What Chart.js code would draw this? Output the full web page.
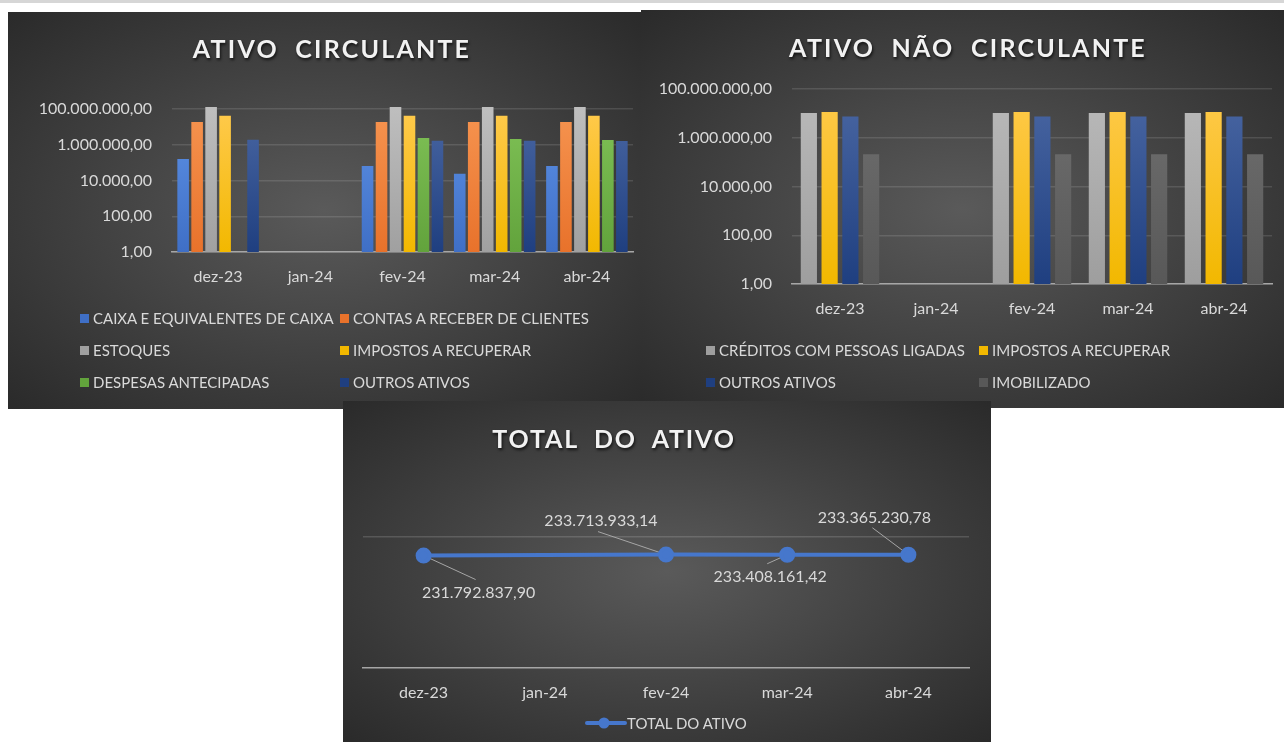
<!DOCTYPE html>
<html>
<head>
<meta charset="utf-8">
<script src="https://cdn.jsdelivr.net/npm/chart.js@4.4.1/dist/chart.umd.min.js"></script>
<style>
body { margin: 0; width: 1284px; height: 742px; background: #fff; position: relative; overflow: hidden; font-family: Lato, sans-serif; }
.strip { position: absolute; left: 0; top: 0; width: 1284px; height: 3px; background: #d6d6d6; }
.panel { position: absolute; overflow: hidden; background: radial-gradient(ellipse farthest-corner at 50% 50%, #5a5a5a 0%, #2a2a2a 100%); }
.panel canvas { position: absolute; left: 0; top: 0; }
.title { position: absolute; transform: translate(-50%, -50%); color: #f2f2f2; font-weight: bold; font-size: 25px; letter-spacing: 2.2px; white-space: pre; text-shadow: 1px 2px 3px rgba(0,0,0,0.7); }
.item { position: absolute; transform: translateY(-50%); display: flex; align-items: center; white-space: nowrap; color: #d9d9d9; font-size: 15px; }
.item canvas { position: static; }
.swatch { width: 9px; height: 9px; margin-right: 4px; }
</style>
</head>
<body>
<div class="strip"></div>

<div class="panel" id="pCirc" style="left:8px; top:12px; width:633px; height:397px;">
  <canvas id="chartCirc" width="633" height="397"></canvas>
  <div class="title" style="left:324px; top:36px;">ATIVO  CIRCULANTE</div>
</div>

<div class="panel" id="pNaoCirc" style="left:641px; top:10px; width:643px; height:398px;">
  <canvas id="chartNaoCirc" width="643" height="398"></canvas>
  <div class="title" style="left:327px; top:37px;">ATIVO  NÃO  CIRCULANTE</div>
</div>

<div class="panel" id="pTotal" style="left:343px; top:401px; width:648px; height:341px;">
  <canvas id="chartTotal" width="648" height="341"></canvas>
  <div class="title" style="left:271px; top:37px; letter-spacing:1.8px;">TOTAL  DO  ATIVO</div>
</div>

<script>
// categories and ticks
const months = ['dez-23', 'jan-24', 'fev-24', 'mar-24', 'abr-24'];
const logTicks = [1, 100, 10000, 1000000, 100000000];

// ATIVO CIRCULANTE
const caixa = [160000, null, 65000, 24000, 65000];
const contasReceber = [19000000, null, 19000000, 19000000, 19000000];
const estoques = [130000000, null, 130000000, 130000000, 130000000];
const impostosCirc = [42000000, null, 42000000, 42000000, 42000000];
const despesasAntecipadas = [null, null, 2400000, 2100000, 1850000];
const outrosCirc = [1900000, null, 1700000, 1700000, 1600000];

// ATIVO NAO CIRCULANTE
const creditosLigadas = [10300000, null, 10300000, 10300000, 10300000];
const impostosNaoCirc = [11300000, null, 11300000, 11300000, 11300000];
const outrosNaoCirc = [7500000, null, 7500000, 7500000, 7500000];
const imobilizado = [210000, null, 210000, 210000, 210000];

// TOTAL DO ATIVO
const totalAtivo = [231792837.90, null, 233713933.14, 233408161.42, 233365230.78];

Chart.defaults.font.family = 'Lato, sans-serif';
Chart.defaults.color = '#d9d9d9';

function formatBR(v) {
    const parts = Number(v).toFixed(2).split('.');
    return parts[0].replace(/\B(?=(\d{3})+(?!\d))/g, '.') + ',' + parts[1];
}

// vertical gradient, lighter on top like the excel style
function barFill(base, light) {
    return function (context) {
        const area = context.chart.chartArea;
        if (!area) return base;
        const g = context.chart.ctx.createLinearGradient(0, area.top, 0, area.bottom);
        g.addColorStop(0, light);
        g.addColorStop(1, base);
        return g;
    };
}

function makeDataset(label, data, base, light) {
    return { label: label, data: data, backgroundColor: barFill(base, light), swatch: base, borderWidth: 0 };
}

const circDatasets = [
    makeDataset('CAIXA E EQUIVALENTES DE CAIXA', caixa, '#3f6fc6', '#5e92e6'),
    makeDataset('CONTAS A RECEBER DE CLIENTES', contasReceber, '#e8722b', '#f69450'),
    makeDataset('ESTOQUES', estoques, '#a0a0a0', '#bebebe'),
    makeDataset('IMPOSTOS A RECUPERAR', impostosCirc, '#f2b800', '#ffca4d'),
    makeDataset('DESPESAS ANTECIPADAS', despesasAntecipadas, '#62a33c', '#80c257'),
    makeDataset('OUTROS ATIVOS', outrosCirc, '#1f3f80', '#4a67a3')
];

const naoCircDatasets = [
    makeDataset('CRÉDITOS COM PESSOAS LIGADAS', creditosLigadas, '#9e9e9e', '#bababa'),
    makeDataset('IMPOSTOS A RECUPERAR', impostosNaoCirc, '#f2b800', '#ffca4d'),
    makeDataset('OUTROS ATIVOS', outrosNaoCirc, '#1f3f80', '#4a67a3'),
    makeDataset('IMOBILIZADO', imobilizado, '#585858', '#707070')
];

function logBarOptions({ yWidth, padding, tickPad }) {
    return {
        responsive: false,
        animation: false,
        layout: { padding: padding },
        plugins: { legend: { display: false }, tooltip: { enabled: false } },
        scales: {
            x: {
                grid: { display: false },
                border: { color: '#a6a6a6', width: 1.5 },
                ticks: { color: '#d9d9d9', font: { size: 16 }, padding: tickPad },
                afterFit: function (s) { s.height = 40; }
            },
            y: {
                type: 'logarithmic',
                min: 1,
                max: 100000000,
                afterBuildTicks: function (s) { s.ticks = logTicks.map(v => ({ value: v })); },
                ticks: { color: '#d9d9d9', font: { size: 16 }, padding: 20, callback: v => formatBR(v) },
                grid: { color: 'rgba(255,255,255,0.12)', lineWidth: 1.5, drawTicks: false },
                border: { display: false },
                afterFit: function (s) { s.width = yWidth; }
            }
        }
    };
}

// build the html legend in columns like excel does
function buildLegend(panelId, datasets, cols, rows) {
    const panel = document.getElementById(panelId);
    datasets.forEach(function (ds, i) {
        const item = document.createElement('div');
        item.className = 'item';
        item.style.left = cols[i % 2] + 'px';
        item.style.top = rows[Math.floor(i / 2)] + 'px';
        const sw = document.createElement('span');
        sw.className = 'swatch';
        sw.style.background = ds.swatch;
        item.appendChild(sw);
        item.appendChild(document.createTextNode(ds.label));
        panel.appendChild(item);
    });
}

const circOpts = logBarOptions({ yWidth: 164, padding: { left: 0, right: 8, top: 97, bottom: 117 }, tickPad: 7 });
circOpts.datasets = { bar: { categoryPercentage: 0.91, barPercentage: 0.83, clip: false } };
new Chart(document.getElementById('chartCirc'), {
    type: 'bar',
    data: { labels: months, datasets: circDatasets },
    options: circOpts
});
buildLegend('pCirc', circDatasets, [72, 332], [306, 338, 370]);

const naoCircOpts = logBarOptions({ yWidth: 151, padding: { left: 0, right: 12, top: 79, bottom: 84 }, tickPad: 7 });
naoCircOpts.datasets = { bar: { categoryPercentage: 0.865, barPercentage: 0.78, clip: false } };
new Chart(document.getElementById('chartNaoCirc'), {
    type: 'bar',
    data: { labels: months, datasets: naoCircDatasets },
    options: naoCircOpts
});
buildLegend('pNaoCirc', naoCircDatasets, [65, 338], [340, 372]);

// data labels with leader lines for the total chart
const labelOffsets = [
    { dx: 55, dy: 37, lx: 52, ly: 24 },
    null,
    { dx: -65, dy: -34, lx: -68, ly: -23 },
    { dx: -17, dy: 22, lx: -20, ly: 9 },
    { dx: -34, dy: -37, lx: -36, ly: -27 }
];

const dataLabelPlugin = {
    id: 'dataLabels',
    beforeDatasetsDraw(chart) {
        const ctx = chart.ctx;
        const meta = chart.getDatasetMeta(0);
        ctx.save();
        ctx.strokeStyle = '#a6a6a6';
        ctx.lineWidth = 1;
        meta.data.forEach(function (pt, i) {
            const off = labelOffsets[i];
            if (!off || totalAtivo[i] === null) return;
            ctx.beginPath();
            ctx.moveTo(pt.x, pt.y);
            ctx.lineTo(pt.x + off.lx, pt.y + off.ly);
            ctx.stroke();
        });
        ctx.restore();
    },
    afterDatasetsDraw(chart) {
        const ctx = chart.ctx;
        const meta = chart.getDatasetMeta(0);
        ctx.save();
        ctx.fillStyle = '#d9d9d9';
        ctx.font = '16px Lato, sans-serif';
        ctx.textAlign = 'center';
        ctx.textBaseline = 'middle';
        meta.data.forEach(function (pt, i) {
            const off = labelOffsets[i];
            if (!off || totalAtivo[i] === null) return;
            ctx.fillText(formatBR(totalAtivo[i]), pt.x + off.dx, pt.y + off.dy);
        });
        ctx.restore();
    }
};

const totalChart = new Chart(document.getElementById('chartTotal'), {
    type: 'line',
    data: {
        labels: months,
        datasets: [{
            label: 'TOTAL DO ATIVO',
            data: totalAtivo,
            borderColor: '#4677cc',
            backgroundColor: '#4677cc',
            borderWidth: 4,
            pointRadius: 6,
            pointBackgroundColor: '#4677cc',
            pointBorderColor: '#4677cc',
            spanGaps: true,
            tension: 0
        }]
    },
    options: {
        responsive: false,
        animation: false,
        layout: { padding: { left: 20, right: 22, top: 136, bottom: 34 } },
        plugins: { tooltip: { enabled: false }, legend: { display: false } },
        scales: {
            x: {
                offset: true,
                grid: { display: false },
                border: { color: '#a6a6a6', width: 1.5 },
                ticks: { color: '#d9d9d9', font: { size: 16 }, padding: 7 },
                afterFit: function (s) { s.height = 40; }
            },
            y: {
                min: 0,
                max: 270000000,
                ticks: { display: false, stepSize: 270000000 },
                grid: { color: c => c.tick && c.tick.value === 0 ? 'rgba(0,0,0,0)' : 'rgba(255,255,255,0.15)', lineWidth: 1.5, drawTicks: false },
                border: { display: false },
                afterFit: function (s) { s.width = 0; }
            }
        }
    },
    plugins: [dataLabelPlugin]
});

// legend for the line chart: line with a dot in the middle
(function () {
    const ds = totalChart.data.datasets[0];
    const marker = document.createElement('canvas');
    marker.width = 42;
    marker.height = 12;
    const c = marker.getContext('2d');
    c.strokeStyle = ds.borderColor;
    c.lineWidth = 4;
    c.lineCap = 'round';
    c.beginPath();
    c.moveTo(2, 6);
    c.lineTo(40, 6);
    c.stroke();
    c.fillStyle = ds.borderColor;
    c.beginPath();
    c.arc(19, 6, 5.5, 0, Math.PI * 2);
    c.fill();
    const item = document.createElement('div');
    item.className = 'item';
    item.style.left = '242px';
    item.style.top = '322px';
    item.appendChild(marker);
    item.appendChild(document.createTextNode(ds.label));
    document.getElementById('pTotal').appendChild(item);
})();
</script>
</body>
</html>
